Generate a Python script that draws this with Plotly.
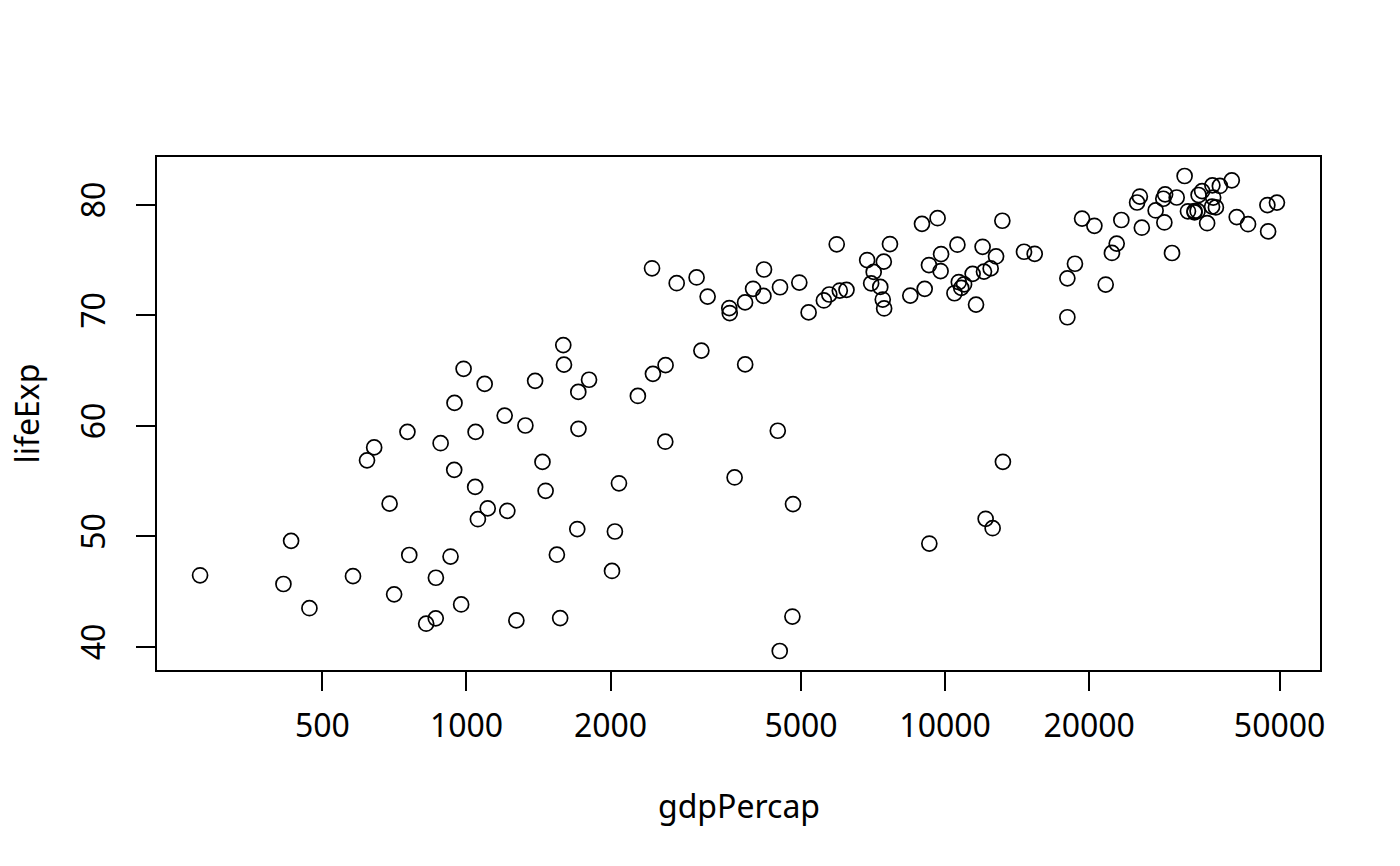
import plotly.graph_objects as go
import numpy as np

gdp_percap = [974.5803, 5937.030, 6223.367, 4797.231, 12779.38, 34435.37, 36126.49, 29796.05, 1391.254, 33692.61,
              1441.285, 3822.137, 7446.299, 12569.85, 9065.801, 10680.79, 1217.033, 430.0707, 1713.779, 2042.095,
              36319.24, 706.0165, 1704.064, 13171.64, 4959.115, 7006.580, 986.1479, 277.5519, 3632.558, 9645.061,
              1544.750, 14619.22, 8948.103, 22833.31, 35278.42, 2082.482, 6025.375, 6873.262, 5581.181, 5728.354,
              12154.09, 641.3695, 690.8056, 33207.08, 30470.02, 13206.48, 752.7497, 32170.37, 1327.609, 27538.41,
              5186.050, 942.6542, 579.2317, 1201.637, 3548.331, 39724.98, 18008.94, 36180.79, 2452.210, 3540.652,
              11605.71, 4471.062, 40676.00, 25523.28, 28569.72, 7320.880, 31656.07, 4519.461, 1463.249, 1593.065,
              23348.14, 47306.99, 10461.06, 1569.331, 414.5073, 12057.50, 1044.770, 759.3499, 12451.66, 1042.582,
              1803.151, 10956.99, 11977.57, 3095.773, 9253.896, 3820.175, 823.6856, 944.0000, 4811.060, 1091.360,
              36797.93, 25185.01, 2749.321, 619.6769, 2013.977, 49357.19, 22316.19, 2605.948, 9809.186, 4172.838,
              7408.906, 3190.481, 15389.92, 20509.65, 19328.71, 7670.123, 10808.48, 863.0885, 1598.435, 21654.83,
              1712.472, 9786.535, 862.5408, 47143.18, 18678.31, 25768.26, 926.1411, 9269.658, 28821.06, 3970.095,
              2602.395, 4513.481, 33859.75, 37506.42, 4184.548, 28718.28, 1107.482, 7458.396, 882.9699, 18008.51,
              7092.923, 8458.276, 1056.380, 33203.26, 42951.65, 10611.46, 11415.81, 2441.577, 3025.350, 2280.770,
              1271.212, 469.7093]

life_exp = [43.828, 76.423, 72.301, 42.731, 75.320, 81.235, 79.829, 75.635, 64.062, 79.441,
            56.728, 65.554, 74.852, 50.728, 72.390, 73.005, 52.295, 49.580, 59.723, 50.430,
            80.653, 44.741, 50.651, 78.553, 72.961, 72.889, 65.152, 46.462, 55.322, 78.782,
            48.328, 75.748, 78.273, 76.486, 78.332, 54.791, 72.235, 74.994, 71.338, 71.878,
            51.579, 58.040, 52.947, 79.313, 80.657, 56.735, 59.448, 79.406, 60.022, 79.483,
            70.259, 56.007, 46.388, 60.916, 70.198, 82.208, 73.338, 81.757, 64.698, 70.650,
            70.964, 59.545, 78.885, 80.745, 80.546, 72.567, 82.603, 72.535, 54.110, 67.297,
            78.623, 77.588, 71.993, 42.592, 45.678, 73.952, 59.443, 48.303, 74.241, 54.467,
            64.164, 72.801, 76.195, 66.803, 74.543, 71.164, 42.082, 62.069, 52.906, 63.785,
            79.762, 80.204, 72.899, 56.867, 46.859, 80.196, 75.640, 65.483, 75.537, 71.752,
            71.421, 71.688, 75.563, 78.098, 78.746, 76.442, 72.476, 46.242, 65.528, 72.777,
            63.062, 74.002, 42.568, 79.972, 74.663, 77.926, 48.159, 49.339, 80.941, 72.396,
            58.556, 39.613, 80.884, 81.701, 74.143, 78.400, 52.517, 70.616, 58.420, 69.819,
            73.923, 71.777, 51.542, 79.425, 78.242, 76.384, 73.747, 74.249, 73.422, 62.698,
            42.384, 43.487]

x_ticks = [500, 1000, 2000, 5000, 10000, 20000, 50000]
y_ticks = [40, 50, 60, 70, 80]

lx = np.log10(gdp_percap)
xr = [lx.min() - 0.04 * (lx.max() - lx.min()), lx.max() + 0.04 * (lx.max() - lx.min())]
yr = [min(life_exp) - 0.04 * (max(life_exp) - min(life_exp)), max(life_exp) + 0.04 * (max(life_exp) - min(life_exp))]

FONT = "Noto Sans"
FS = 32
fig = go.Figure(go.Scatter(
    x=gdp_percap, y=life_exp, mode="markers",
    marker=dict(symbol="circle-open", size=15, color="black", line=dict(width=1.7, color="black")),
    hoverinfo="x+y",
))

fig.update_layout(
    width=1400, height=866,
    margin=dict(l=157, r=80, t=157, b=196),
    plot_bgcolor="white", paper_bgcolor="white",
    showlegend=False,
    font=dict(family=FONT, size=FS, color="black"),
    xaxis=dict(type="log", range=xr, tickvals=x_ticks, ticktext=[str(v) for v in x_ticks],
               showgrid=False, zeroline=False, showline=True, linecolor="black", linewidth=1.6,
               mirror=True, ticks="outside", ticklen=19, tickwidth=1.6, tickcolor="black",
               tickfont=dict(family=FONT, size=FS), ticklabelstandoff=8),
    yaxis=dict(range=yr, tickvals=y_ticks, ticktext=[str(v) for v in y_ticks],
               showgrid=False, zeroline=False, showline=True, linecolor="black", linewidth=1.6,
               mirror=True, ticks="outside", ticklen=19, tickwidth=1.6, tickcolor="black",
               tickangle=-90, tickfont=dict(family=FONT, size=FS), ticklabelstandoff=18),
    annotations=[
        dict(text="gdpPercap", xref="paper", yref="paper", x=0.5, y=-135 / 513,
             xanchor="center", yanchor="middle", showarrow=False, font=dict(family=FONT, size=FS)),
        dict(text="lifeExp", xref="paper", yref="paper", x=-131 / 1163, y=0.5, textangle=-90,
             xanchor="center", yanchor="middle", showarrow=False, font=dict(family=FONT, size=FS)),
    ],
)

fig.write_html("out.html", config={"displayModeBar": False},
               post_script="document.body.style.margin='0';")
